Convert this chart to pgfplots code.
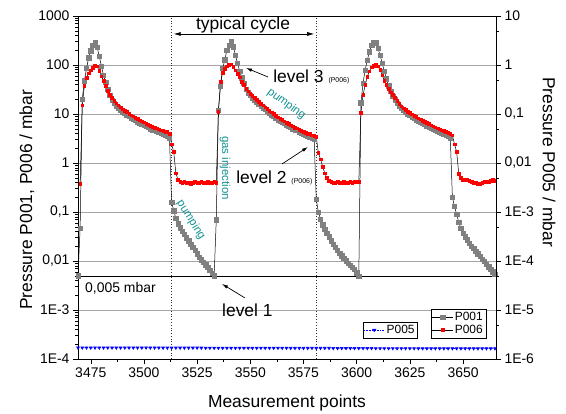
\documentclass[border=0pt]{standalone}
\usepackage{fontspec}
\setmainfont{Liberation Sans}
\usepackage{pgfplots}
\pgfplotsset{compat=1.18}
\usetikzlibrary{arrows.meta}
\definecolor{pgray}{RGB}{128,128,128}
\definecolor{gridgray}{RGB}{165,165,165}
\definecolor{tealtxt}{RGB}{20,145,145}

\begin{document}
\begin{tikzpicture}
\path[use as bounding box] (-78bp,-55bp) rectangle (488bp,359bp);

% left axis: P001 and P006
\begin{axis}[
  width=418bp, height=343bp, scale only axis,
  xmin=3469, xmax=3665.5,
  ymode=log, ymin=1e-4, ymax=1000,
  xtick={3475,3500,...,3650}, minor x tick num=1,
  ytick={1e-4,1e-3,0.01,0.1,1,10,100,1000},
  yticklabels={1E-4,1E-3,{0,01},{0,1},1,10,100,1000},
  xtick pos=left, ytick pos=left,
  tick align=outside,
  major tick length=5bp, minor tick length=2.5bp,
  tick style={black, line width=0.5pt},
  ymajorgrids, major grid style={gridgray, line width=0.6pt},
  axis line style={line width=0.6pt},
  tick label style={font=\fontsize{14}{14}\selectfont},
  /pgf/number format/assume math mode=true,
  xticklabel style={/pgf/number format/1000 sep=},
  xlabel={Measurement points},
  ylabel={Pressure P001, P006 / mbar},
  label style={font=\fontsize{17.5}{18}\selectfont},
  xlabel style={at={(axis description cs:0.5,-0.128)}, anchor=center},
  ylabel style={at={(axis description cs:-0.122,0.464)}, anchor=center},
  legend style={at={(0.976,0.061)}, anchor=south east, draw=black,
    font=\fontsize{12}{13}\selectfont, inner sep=1pt, row sep=-1pt},
  legend image post style={xscale=1.2},
  legend cell align=left,
]

\draw[black, line width=0.5pt] (axis cs:3469,0.005) -- (axis cs:3665.5,0.005);
\draw[black!80, dotted, line width=0.8pt] (axis cs:3513,1e-4) -- (axis cs:3513,1000);
\draw[black!80, dotted, line width=0.8pt] (axis cs:3581,1e-4) -- (axis cs:3581,1000);

\addplot[black, line width=0.5pt, mark=square*, mark size=2.2pt,
  mark options={draw=pgray, fill=pgray}] coordinates {
(3469,0.005) (3470,0.047) (3471,20) (3472,48) (3473,85) (3474,140) (3475,195)
(3476,250) (3477,285) (3478,230) (3479,150) (3480,95) (3481,62) (3482,44)
(3483,32) (3484,24) (3485,19) (3486,16.4) (3487,14.6) (3488,13.3) (3489,12.1)
(3490,11.1) (3491,10.3) (3492,9.7) (3493,9.0) (3494,8.4) (3495,7.9) (3496,7.5)
(3497,7.0) (3498,6.6) (3499,6.2) (3500,5.9) (3501,5.6) (3502,5.3) (3503,5.0)
(3504,4.8) (3505,4.6) (3506,4.4) (3507,4.2) (3508,4.0) (3509,3.85) (3510,3.7)
(3511,3.5) (3512,3.3) (3513,0.16) (3514,0.107) (3515,0.074) (3516,0.058)
(3517,0.048) (3518,0.041) (3519,0.035) (3520,0.030) (3521,0.026) (3522,0.022)
(3523,0.019) (3524,0.0165) (3525,0.014) (3526,0.012) (3527,0.0107) (3528,0.0095)
(3529,0.0084) (3530,0.0074) (3531,0.0065) (3532,0.0057) (3533,0.0050)
(3534,0.07) (3535,12) (3536,37) (3537,85) (3538,127) (3539,200) (3540,255)
(3541,305) (3542,236) (3543,160) (3544,108) (3545,75) (3546,55) (3547,42)
(3548,32) (3549,27) (3550,24) (3551,21) (3552,19.3) (3553,17.5) (3554,16)
(3555,14.6) (3556,13.5) (3557,12.4) (3558,11.4) (3559,10.5) (3560,9.7)
(3561,9.0) (3562,8.3) (3563,7.7) (3564,7.2) (3565,6.8) (3566,6.4) (3567,6.0)
(3568,5.7) (3569,5.3) (3570,5.0) (3571,4.8) (3572,4.6) (3573,4.3) (3574,4.1)
(3575,3.95) (3576,3.8) (3577,3.6) (3578,3.45) (3579,3.3) (3580,3.15)
(3581,0.18) (3582,0.10) (3583,0.072) (3584,0.055) (3585,0.045) (3586,0.037)
(3587,0.031) (3588,0.026) (3589,0.022) (3590,0.019) (3591,0.0166) (3592,0.0145)
(3593,0.0129) (3594,0.0115) (3595,0.0102) (3596,0.0091) (3597,0.0083)
(3598,0.0075) (3599,0.0067) (3600,0.0058) (3601,0.0049)
(3602,17) (3603,43) (3604,79) (3605,126) (3606,187) (3607,255) (3608,285)
(3609,285) (3610,220) (3611,160) (3612,108) (3613,75) (3614,52) (3615,38)
(3616,29) (3617,23) (3618,19.5) (3619,16.8) (3620,14.6) (3621,13.0) (3622,11.8)
(3623,10.9) (3624,10.0) (3625,9.4) (3626,8.8) (3627,8.2) (3628,7.7) (3629,7.3)
(3630,6.9) (3631,6.5) (3632,6.1) (3633,5.8) (3634,5.5) (3635,5.2) (3636,4.9)
(3637,4.7) (3638,4.5) (3639,4.3) (3640,4.1) (3641,3.9) (3642,3.7) (3643,3.5)
(3644,3.3) (3645,0.2) (3646,0.13) (3647,0.09) (3648,0.062) (3649,0.046)
(3650,0.037) (3651,0.031) (3652,0.027) (3653,0.023) (3654,0.020) (3655,0.018)
(3656,0.0158) (3657,0.014) (3658,0.0125) (3659,0.011) (3660,0.0098)
(3661,0.0087) (3662,0.0077) (3663,0.0068) (3664,0.006) (3665,0.0053)
};
\addlegendentry{P001}

\addplot[black, line width=0.5pt, mark=square*, mark size=1.3pt,
  mark options={draw=red, fill=red}] coordinates {
(3470,0.38) (3471,15) (3472,38) (3473,55) (3474,68) (3475,78) (3476,88)
(3477,97) (3478,95) (3479,76) (3480,59) (3481,48) (3482,38) (3483,30)
(3484,25) (3485,21.4) (3486,18.6) (3487,16.6) (3488,15.1) (3489,13.8)
(3490,12.6) (3491,11.7) (3492,11.0) (3493,10.2) (3494,9.5) (3495,9.0)
(3496,8.5) (3497,7.9) (3498,7.5) (3499,7.1) (3500,6.8) (3501,6.4) (3502,6.1)
(3503,5.75) (3504,5.5) (3505,5.3) (3506,5.1) (3507,4.9) (3508,4.7) (3509,4.6)
(3510,4.4) (3511,4.3) (3512,4.0) (3513,2.4) (3514,1.7) (3515,0.62) (3516,0.46)
(3517,0.41) (3518,0.40) (3519,0.41) (3520,0.40) (3521,0.40) (3522,0.37)
(3523,0.40) (3524,0.41) (3525,0.40) (3526,0.40) (3527,0.41) (3528,0.40)
(3529,0.40) (3530,0.41) (3531,0.40) (3532,0.40) (3533,0.41) (3534,0.40)
(3535,11) (3536,45) (3537,70) (3538,85) (3539,95) (3540,100) (3541,103)
(3542,92) (3543,78) (3544,66) (3545,56) (3546,46) (3547,39) (3548,33)
(3549,29) (3550,26) (3551,23.4) (3552,21.4) (3553,19.5) (3554,17.8)
(3555,16.2) (3556,15.0) (3557,13.8) (3558,12.7) (3559,11.7) (3560,10.8)
(3561,10.0) (3562,9.2) (3563,8.6) (3564,8.0) (3565,7.6) (3566,7.1) (3567,6.7)
(3568,6.3) (3569,5.9) (3570,5.6) (3571,5.3) (3572,5.1) (3573,4.8) (3574,4.6)
(3575,4.4) (3576,4.2) (3577,4.0) (3578,3.9) (3579,3.7) (3580,3.6) (3581,3.45)
(3582,1.6) (3583,1.2) (3584,0.85) (3585,0.62) (3586,0.5) (3587,0.43)
(3588,0.41) (3589,0.40) (3590,0.40) (3591,0.41) (3592,0.40) (3593,0.40)
(3594,0.41) (3595,0.40) (3596,0.40) (3597,0.41) (3598,0.40) (3599,0.41)
(3600,0.41) (3601,0.41)
(3602,10.7) (3603,24.5) (3604,39) (3605,58) (3606,75) (3607,90) (3608,97)
(3609,100) (3610,95) (3611,80) (3612,62) (3613,48) (3614,40) (3615,33)
(3616,28) (3617,24.5) (3618,21.4) (3619,18.6) (3620,16.2) (3621,14.5)
(3622,13.2) (3623,12.2) (3624,11.2) (3625,10.5) (3626,9.8) (3627,9.2)
(3628,8.7) (3629,8.2) (3630,7.8) (3631,7.3) (3632,6.9) (3633,6.6) (3634,6.3)
(3635,5.9) (3636,5.6) (3637,5.4) (3638,5.1) (3639,4.9) (3640,4.7) (3641,4.5)
(3642,4.3) (3643,4.1) (3644,3.9) (3645,3.7) (3646,2.4) (3647,1.7) (3648,0.6)
(3649,0.5) (3650,0.46) (3651,0.46) (3652,0.45) (3653,0.44) (3654,0.42)
(3655,0.40) (3656,0.39) (3657,0.38) (3658,0.38) (3659,0.39) (3660,0.41)
(3661,0.41) (3662,0.42) (3663,0.44) (3664,0.46) (3665,0.43)
};
\addlegendentry{P006}

% annotations
\node[font=\fontsize{17.5}{18}\selectfont] at (axis cs:3546.6,655) {typical cycle};
\draw[{Latex[length=7pt,width=4pt]}-{Latex[length=7pt,width=4pt]}, line width=0.6pt]
  (axis cs:3514,430) -- (axis cs:3580,430);
\node[anchor=west, font=\fontsize{17.5}{18}\selectfont, inner sep=0pt] at (axis cs:3560.7,57)
  {level 3 {\fontsize{7}{8}\selectfont (P006)}};
\draw[-{Latex[length=6pt,width=3.5pt]}, line width=0.7pt] (axis cs:3558.3,57) -- (axis cs:3548,87);
\node[anchor=west, font=\fontsize{17.5}{18}\selectfont, inner sep=0pt] at (axis cs:3543.3,0.494)
  {level 2 {\fontsize{7}{8}\selectfont (P006)}};
\draw[-{Latex[length=6pt,width=3.5pt]}, line width=0.7pt] (axis cs:3564.9,0.955) -- (axis cs:3577.1,2.12);
\node[anchor=west, font=\fontsize{17.5}{18}\selectfont, inner sep=0pt] at (axis cs:3536.7,0.001) {level 1};
\draw[-{Latex[length=6pt,width=3.5pt]}, line width=0.7pt] (axis cs:3547.5,0.00176) -- (axis cs:3536.7,0.0034);
\node[anchor=west, font=\fontsize{14}{14}\selectfont, inner sep=0pt] at (axis cs:3472.3,0.00281) {0,005 mbar};
\node[rotate=-36, text=tealtxt, font=\fontsize{11.5}{12}\selectfont] at (axis cs:3567,16) {pumping};
\node[rotate=-58, text=tealtxt, font=\fontsize{11.5}{12}\selectfont] at (axis cs:3522.1,0.0687) {pumping};
\node[rotate=-90, text=tealtxt, font=\fontsize{11.5}{12}\selectfont] at (axis cs:3538.1,0.79) {gas injection};
\end{axis}

% right axis: P005
\begin{axis}[
  width=418bp, height=343bp, scale only axis,
  xmin=3469, xmax=3665.5,
  axis x line=none, axis y line*=right,
  axis line style={-, line width=0.6pt},
  ymode=log, ymin=1e-6, ymax=10,
  ytick={1e-6,1e-5,1e-4,1e-3,0.01,0.1,1,10},
  yticklabels={1E-6,1E-5,1E-4,1E-3,{0,01},{0,1},1,10},
  minor ytick={5e-6,5e-5,5e-4,5e-3,5e-2,0.5,5},
  tick align=outside,
  major tick length=5bp, minor tick length=2.5bp,
  tick style={black, line width=0.5pt},
  tick label style={font=\fontsize{14}{14}\selectfont},
  ylabel={Pressure P005 / mbar},
  label style={font=\fontsize{17.5}{18}\selectfont},
  ylabel style={at={(axis description cs:1.127,0.574)}, anchor=center, rotate=180},
  legend style={at={(0.813,0.061)}, anchor=south east, draw=black,
    font=\fontsize{12}{13}\selectfont, inner sep=1pt},
  legend image post style={xscale=1.2},
  legend cell align=left,
]
\addplot[blue, densely dotted, line width=0.6pt, mark=triangle*, mark size=1.6pt,
  mark options={solid, rotate=180, fill=blue}] coordinates {
(3469,1.70e-6) (3471,1.70e-6) (3473,1.70e-6) (3475,1.70e-6) (3477,1.70e-6)
(3479,1.70e-6) (3481,1.70e-6) (3483,1.70e-6) (3485,1.70e-6) (3487,1.70e-6)
(3489,1.70e-6) (3491,1.70e-6) (3493,1.70e-6) (3495,1.70e-6) (3497,1.70e-6)
(3499,1.70e-6) (3501,1.70e-6) (3503,1.70e-6) (3505,1.70e-6) (3507,1.70e-6)
(3509,1.69e-6) (3511,1.69e-6) (3513,1.69e-6) (3515,1.69e-6) (3517,1.69e-6)
(3519,1.69e-6) (3521,1.69e-6) (3523,1.69e-6) (3525,1.69e-6) (3527,1.69e-6)
(3529,1.68e-6) (3531,1.68e-6) (3533,1.68e-6) (3535,1.68e-6) (3537,1.68e-6)
(3539,1.68e-6) (3541,1.68e-6) (3543,1.68e-6) (3545,1.68e-6) (3547,1.68e-6)
(3549,1.68e-6) (3551,1.68e-6) (3553,1.68e-6) (3555,1.68e-6) (3557,1.68e-6)
(3559,1.68e-6) (3561,1.68e-6) (3563,1.68e-6) (3565,1.68e-6) (3567,1.68e-6)
(3569,1.67e-6) (3571,1.67e-6) (3573,1.67e-6) (3575,1.67e-6) (3577,1.67e-6)
(3579,1.67e-6) (3581,1.67e-6) (3583,1.67e-6) (3585,1.67e-6) (3587,1.67e-6)
(3589,1.66e-6) (3591,1.66e-6) (3593,1.66e-6) (3595,1.66e-6) (3597,1.66e-6)
(3599,1.66e-6) (3601,1.66e-6) (3603,1.66e-6) (3605,1.66e-6) (3607,1.66e-6)
(3609,1.65e-6) (3611,1.65e-6) (3613,1.65e-6) (3615,1.65e-6) (3617,1.65e-6)
(3619,1.65e-6) (3621,1.65e-6) (3623,1.65e-6) (3625,1.65e-6) (3627,1.65e-6)
(3629,1.64e-6) (3631,1.64e-6) (3633,1.64e-6) (3635,1.64e-6) (3637,1.64e-6)
(3639,1.64e-6) (3641,1.64e-6) (3643,1.64e-6) (3645,1.64e-6) (3647,1.64e-6)
(3649,1.64e-6) (3651,1.64e-6) (3653,1.64e-6) (3655,1.64e-6) (3657,1.64e-6)
(3659,1.64e-6) (3661,1.64e-6) (3663,1.64e-6) (3665,1.64e-6)
};
\addlegendentry{P005}
\end{axis}
\end{tikzpicture}
\end{document}
